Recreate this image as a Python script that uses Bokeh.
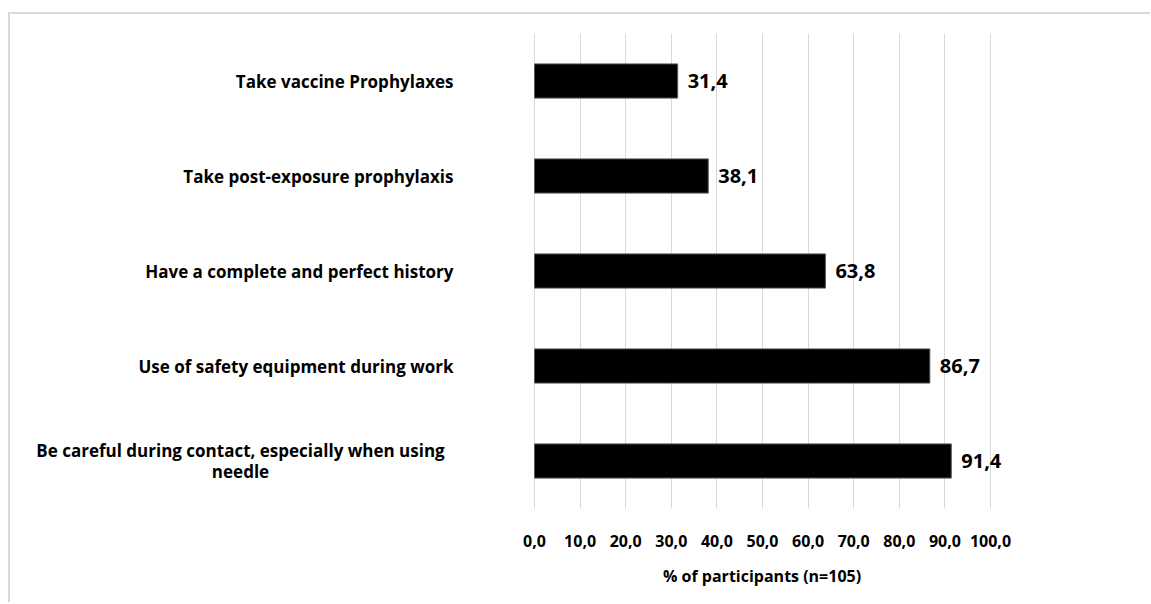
from bokeh.plotting import figure
from bokeh.models import ColumnDataSource, FactorRange, Range1d, Label, FixedTicker, Title
from bokeh.embed import file_html
from bokeh.resources import INLINE

categories = [
    "Take vaccine Prophylaxes",
    "Take post-exposure prophylaxis",
    "Have a complete and perfect history",
    "Use of safety equipment during work",
    "Be careful during contact, especially when using\nneedle",
]
values = [31.4, 38.1, 63.8, 86.7, 91.4]
tick_values = [0, 10, 20, 30, 40, 50, 60, 70, 80, 90, 100]
tick_labels = ["0,0", "10,0", "20,0", "30,0", "40,0", "50,0", "60,0", "70,0", "80,0", "90,0", "100,0"]
x_title = "% of participants (n=105)"

FONT = "Open Sans"

factors = categories[::-1]
src = ColumnDataSource(dict(cat=categories, val=values))

# The frame spans the whole width so that the category and value labels
# (annotations are clipped to the frame) stay visible; the axis 0..100
# occupies the middle part of it.
FRAME_W = 1140
AXIS_LEFT = 524      # px from the frame's left edge to value 0
AXIS_W = 456         # px from value 0 to value 100
unit = AXIS_W / 100.0
x_start = -AXIS_LEFT / unit
x_end = (FRAME_W - AXIS_LEFT) / unit

p = figure(
    y_range=FactorRange(factors=factors),
    x_range=Range1d(x_start, x_end),
    frame_width=FRAME_W, frame_height=475,
    min_border_left=0, min_border_right=0,
    min_border_top=19, min_border_bottom=94,
    output_backend="svg", toolbar_location=None,
)
p.styles = {
    "border-top": "2px solid #d9d9d9",
    "border-left": "2px solid #d9d9d9",
    "margin-top": "12px",
    "margin-left": "8px",
}
p.outline_line_color = None
p.background_fill_color = "white"
p.border_fill_color = "white"

p.hbar(y="cat", left=0, right="val", height=0.36, source=src,
       fill_color="black", line_color="#5a5a5a", line_width=1)

p.xgrid.ticker = FixedTicker(ticks=tick_values)
p.xgrid.grid_line_color = "#d9d9d9"
p.xgrid.grid_line_width = 1
p.ygrid.grid_line_color = None

ax = p.xaxis[0]
ax.ticker = FixedTicker(ticks=tick_values)
ax.major_label_overrides = {t: l for t, l in zip(tick_values, tick_labels)}
ax.axis_line_color = None
ax.major_tick_line_color = None
ax.minor_tick_line_color = None
ax.major_label_standoff = 20
ax.major_label_text_font = FONT
ax.major_label_text_font_style = "bold"
ax.major_label_text_font_size = "16px"
ax.major_label_text_color = "black"

p.yaxis.visible = False

title_w = 199
p.add_layout(Title(
    text=x_title, align="left", offset=AXIS_LEFT + AXIS_W / 2 - title_w / 2,
    standoff=26, vertical_align="bottom",
    text_font=FONT, text_font_style="bold", text_font_size="16px",
    text_color="black",
), "below")

for cat, val in zip(categories, values):
    ypos = factors.index(cat) + 0.5  # centre of the factor on the categorical scale
    multi = "\n" in cat
    p.add_layout(Label(
        x=0, y=ypos, text=cat,
        x_offset=-294 if multi else -81,
        text_align="center" if multi else "right",
        text_baseline="middle", text_line_height=0.95,
        text_font=FONT, text_font_style="bold", text_font_size="17px",
        text_color="black",
    ))
    p.add_layout(Label(
        x=val, y=ypos, text=f"{val:.1f}".replace(".", ","),
        x_offset=10, text_align="left", text_baseline="middle",
        text_font=FONT, text_font_style="bold", text_font_size="20px",
        text_color="black",
    ))

open("out.html", "w").write(file_html(p, INLINE))
